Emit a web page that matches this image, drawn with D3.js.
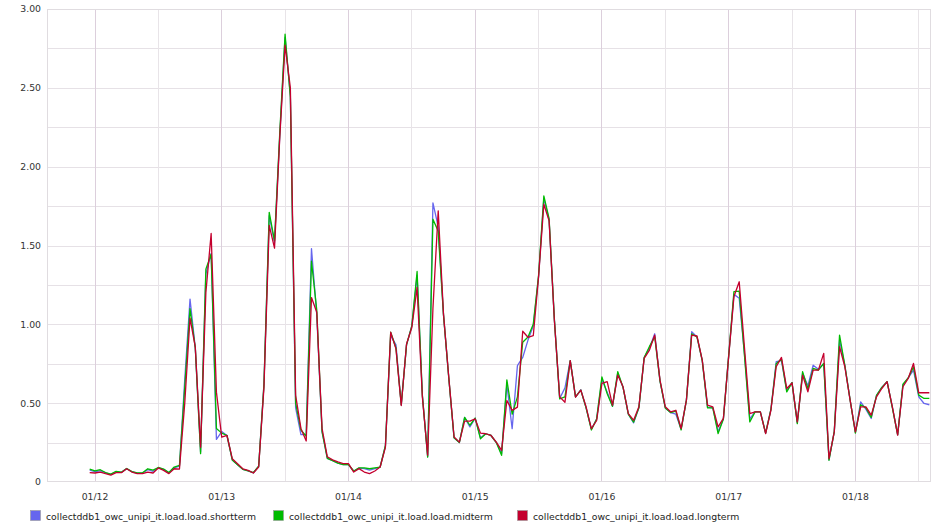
<!DOCTYPE html>
<html>
<head>
<meta charset="utf-8">
<script src="https://cdn.jsdelivr.net/npm/d3@7"></script>
<style>
  body { margin: 0; background: #fff; }
  svg { display: block; font-family: "DejaVu Sans", sans-serif; }
  .tick text { fill: #333; font-size: 9.3px; }
  .legend text { fill: #222; font-size: 9.3px; }
</style>
</head>
<body>
<div class="chart"></div>
<script>
// hourly samples, first one at 01/11 23:05
var startTime = new Date(2020, 0, 11, 23, 5);
var seriesNames = [
  "collectddb1_owc_unipi_it.load.load.shortterm",
  "collectddb1_owc_unipi_it.load.load.midterm",
  "collectddb1_owc_unipi_it.load.load.longterm"
];
var seriesColors = ["#6666ee", "#00bb00", "#c4002e"];

var shortterm = [
  0.075, 0.065, 0.072, 0.058, 0.048, 0.065, 0.061, 0.085, 0.065, 0.056,
  0.056, 0.078, 0.068, 0.090, 0.080, 0.058, 0.090, 0.100, 0.650, 1.160,
  0.850, 0.190, 1.320, 1.450, 0.270, 0.320, 0.295, 0.140, 0.110, 0.080,
  0.070, 0.058, 0.100, 0.620, 1.690, 1.520, 2.200, 2.820, 2.450, 0.470,
  0.300, 0.300, 1.480, 1.060, 0.320, 0.150, 0.135, 0.120, 0.110, 0.110,
  0.068, 0.088, 0.085, 0.075, 0.085, 0.095, 0.230, 0.930, 0.870, 0.490,
  0.870, 0.990, 1.310, 0.550, 0.160, 1.770, 1.620, 1.060, 0.660, 0.280,
  0.250, 0.410, 0.350, 0.405, 0.280, 0.306, 0.295, 0.250, 0.180, 0.620,
  0.338, 0.738, 0.790, 0.900, 0.990, 1.300, 1.800, 1.660, 1.030, 0.530,
  0.597, 0.770, 0.540, 0.585, 0.470, 0.335, 0.400, 0.650, 0.570, 0.480,
  0.690, 0.600, 0.430, 0.375, 0.470, 0.790, 0.850, 0.940, 0.640, 0.470,
  0.440, 0.430, 0.335, 0.520, 0.953, 0.920, 0.770, 0.475, 0.470, 0.320,
  0.400, 0.800, 1.190, 1.165, 0.810, 0.400, 0.445, 0.445, 0.310, 0.460,
  0.763, 0.770, 0.580, 0.630, 0.375, 0.690, 0.610, 0.741, 0.715, 0.750,
  0.140, 0.320, 0.900, 0.740, 0.520, 0.315, 0.508, 0.460, 0.403, 0.550,
  0.600, 0.636, 0.475, 0.300, 0.615, 0.660, 0.710, 0.540, 0.498, 0.490
];
var midterm = [
  0.082, 0.070, 0.078, 0.060, 0.050, 0.068, 0.062, 0.086, 0.066, 0.058,
  0.058, 0.084, 0.075, 0.092, 0.082, 0.060, 0.095, 0.105, 0.600, 1.100,
  0.850, 0.180, 1.350, 1.445, 0.340, 0.310, 0.295, 0.140, 0.110, 0.080,
  0.070, 0.060, 0.100, 0.620, 1.710, 1.530, 2.220, 2.840, 2.440, 0.500,
  0.330, 0.290, 1.400, 1.090, 0.320, 0.150, 0.135, 0.120, 0.110, 0.110,
  0.070, 0.090, 0.090, 0.084, 0.090, 0.095, 0.230, 0.950, 0.850, 0.490,
  0.870, 0.990, 1.335, 0.550, 0.158, 1.667, 1.590, 1.060, 0.660, 0.280,
  0.250, 0.410, 0.360, 0.405, 0.274, 0.306, 0.295, 0.250, 0.169, 0.648,
  0.430, 0.540, 0.886, 0.920, 1.000, 1.310, 1.814, 1.670, 1.030, 0.527,
  0.540, 0.770, 0.540, 0.583, 0.470, 0.330, 0.400, 0.667, 0.560, 0.480,
  0.700, 0.600, 0.430, 0.380, 0.470, 0.790, 0.860, 0.920, 0.640, 0.470,
  0.440, 0.450, 0.330, 0.520, 0.940, 0.920, 0.770, 0.470, 0.470, 0.307,
  0.400, 0.800, 1.208, 1.210, 0.800, 0.381, 0.445, 0.445, 0.310, 0.460,
  0.750, 0.780, 0.572, 0.630, 0.370, 0.700, 0.590, 0.720, 0.710, 0.752,
  0.138, 0.320, 0.932, 0.740, 0.520, 0.310, 0.490, 0.470, 0.410, 0.550,
  0.600, 0.636, 0.470, 0.300, 0.620, 0.660, 0.730, 0.551, 0.530, 0.530
];
var longterm = [
  0.060, 0.057, 0.063, 0.053, 0.044, 0.059, 0.059, 0.084, 0.063, 0.053,
  0.053, 0.063, 0.057, 0.089, 0.074, 0.053, 0.084, 0.082, 0.500, 1.040,
  0.855, 0.220, 1.200, 1.576, 0.570, 0.285, 0.295, 0.148, 0.116, 0.084,
  0.074, 0.057, 0.095, 0.600, 1.627, 1.483, 2.190, 2.770, 2.500, 0.550,
  0.340, 0.260, 1.170, 1.077, 0.340, 0.160, 0.140, 0.127, 0.116, 0.116,
  0.063, 0.085, 0.063, 0.053, 0.070, 0.095, 0.220, 0.950, 0.844, 0.485,
  0.875, 0.980, 1.234, 0.538, 0.170, 1.100, 1.720, 1.065, 0.665, 0.285,
  0.253, 0.386, 0.386, 0.400, 0.310, 0.306, 0.295, 0.253, 0.200, 0.517,
  0.454, 0.475, 0.956, 0.918, 0.928, 1.300, 1.762, 1.656, 1.023, 0.540,
  0.506, 0.770, 0.538, 0.583, 0.477, 0.339, 0.390, 0.625, 0.636, 0.487,
  0.678, 0.604, 0.434, 0.392, 0.477, 0.784, 0.837, 0.932, 0.646, 0.477,
  0.445, 0.455, 0.339, 0.519, 0.932, 0.926, 0.773, 0.487, 0.477, 0.350,
  0.403, 0.794, 1.176, 1.270, 0.850, 0.434, 0.445, 0.445, 0.307, 0.455,
  0.731, 0.790, 0.593, 0.629, 0.381, 0.678, 0.572, 0.710, 0.710, 0.816,
  0.148, 0.318, 0.858, 0.731, 0.519, 0.318, 0.477, 0.477, 0.424, 0.540,
  0.593, 0.636, 0.477, 0.297, 0.604, 0.657, 0.752, 0.566, 0.566, 0.566
];

var yTicks = [0, 0.5, 1, 1.5, 2, 2.5, 3];
var yTickLabels = ["0", "0.50", "1.00", "1.50", "2.00", "2.50", "3.00"];
var yGrid = [0.25, 0.5, 0.75, 1, 1.25, 1.5, 1.75, 2, 2.25, 2.5, 2.75];
var xDomain = [new Date(2020, 0, 11, 15, 0), new Date(2020, 0, 18, 14, 24)];

var svgWidth = 940;
var svgHeight = 524;
var margin = { top: 9, right: 9, bottom: 42, left: 47 };
var width = svgWidth - margin.left - margin.right;
var height = svgHeight - margin.top - margin.bottom;

var svg = d3.select(".chart")
  .append("svg")
  .attr("width", svgWidth)
  .attr("height", svgHeight);

var chartGroup = svg.append("g")
  .attr("transform", `translate(${margin.left}, ${margin.top})`);

var xTimeScale = d3.scaleTime().domain(xDomain).range([0, width]);
var yLinearScale = d3.scaleLinear().domain([0, 3]).range([height, 0]);

// grid
chartGroup.append("g")
  .selectAll("line")
  .data(yGrid)
  .enter()
  .append("line")
  .attr("x1", 0)
  .attr("x2", width)
  .attr("y1", d => Math.round(yLinearScale(d)) + 0.5)
  .attr("y2", d => Math.round(yLinearScale(d)) + 0.5)
  .attr("stroke", "#e6e1e6");

var halfDays = d3.timeHour.every(12).range(xDomain[0], xDomain[1]);
chartGroup.append("g")
  .selectAll("line")
  .data(halfDays)
  .enter()
  .append("line")
  .attr("x1", d => Math.round(xTimeScale(d)) + 0.5)
  .attr("x2", d => Math.round(xTimeScale(d)) + 0.5)
  .attr("y1", 0)
  .attr("y2", height)
  .attr("stroke", d => d.getHours() === 0 ? "#dccfdc" : "#e8e4e8");

chartGroup.append("rect")
  .attr("x", 0.5)
  .attr("y", 0.5)
  .attr("width", width - 1)
  .attr("height", height - 1)
  .attr("fill", "none")
  .attr("stroke", "#e0dce0");

// axes
var xAxis = d3.axisBottom(xTimeScale)
  .tickValues(d3.timeDay.range(xDomain[0], xDomain[1]))
  .tickFormat(d3.timeFormat("%m/%d"))
  .tickSize(0)
  .tickPadding(11);

var yAxis = d3.axisLeft(yLinearScale)
  .tickValues(yTicks)
  .tickFormat((d, i) => yTickLabels[i])
  .tickSize(0)
  .tickPadding(6);

chartGroup.append("g")
  .attr("transform", `translate(0, ${height})`)
  .call(xAxis)
  .call(g => g.select(".domain").remove());

chartGroup.append("g")
  .call(yAxis)
  .call(g => g.select(".domain").remove());

chartGroup.selectAll(".tick text").attr("font-family", "DejaVu Sans").attr("font-size", "9.3px");

// lines
var allSeries = [shortterm, midterm, longterm];
var line = d3.line()
  .x((d, i) => xTimeScale(d3.timeHour.offset(startTime, i)))
  .y(d => yLinearScale(d));

chartGroup.selectAll(".series")
  .data(allSeries)
  .enter()
  .append("path")
  .attr("class", "series")
  .attr("d", d => line(d))
  .attr("fill", "none")
  .attr("stroke", (d, i) => seriesColors[i])
  .attr("stroke-width", 1.3)
  .attr("stroke-linejoin", "round");

// legend
var legendX = [30, 273, 517];
var legend = svg.append("g").attr("class", "legend");
var items = legend.selectAll("g")
  .data(seriesNames)
  .enter()
  .append("g")
  .attr("transform", (d, i) => `translate(${legendX[i]}, 510)`);

items.append("rect")
  .attr("x", 0.5)
  .attr("y", 0.5)
  .attr("width", 10)
  .attr("height", 10)
  .attr("fill", (d, i) => seriesColors[i])
  .attr("stroke", "#999")
  .attr("stroke-width", 0.6);

items.append("text")
  .attr("x", 16)
  .attr("y", 9.5)
  .text(d => d);
</script>
</body>
</html>
